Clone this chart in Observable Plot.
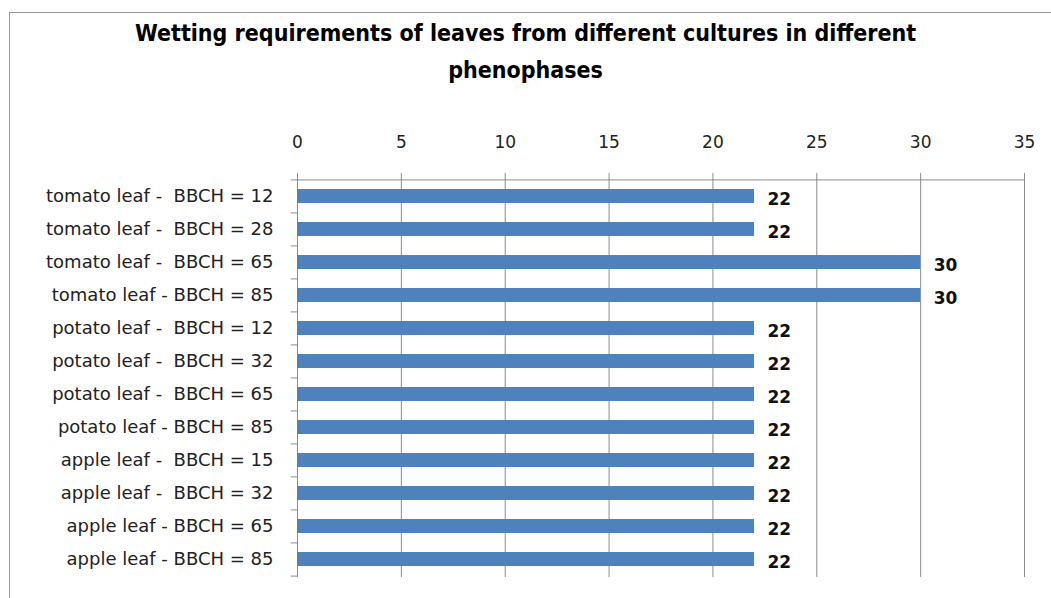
<!DOCTYPE html>
<html>
<head>
<meta charset="utf-8">
<script src="https://cdn.jsdelivr.net/npm/d3@7"></script>
<script src="https://cdn.jsdelivr.net/npm/@observablehq/plot@0.6"></script>
<style>
  html, body { margin: 0; padding: 0; background: #fff; }
  body { width: 1051px; height: 598px; position: relative; overflow: hidden; }
  #frame { position: absolute; left: 9px; top: 12px; width: 1100px; height: 700px; border: 1px solid #9a9a9a; box-sizing: border-box; z-index: 2; pointer-events: none; }
  #title { position: absolute; left: 0; top: 15px; width: 1051px; text-align: center;
           font-family: "Liberation Sans Narrow", "DejaVu Sans Condensed", sans-serif; font-weight: bold;
           font-size: 23px; line-height: 37px; color: #000; }
  #chart { position: absolute; left: 0; top: 100px; }
  #chart svg text { white-space: pre; }
</style>
</head>
<body>
<div id="frame"></div>
<div id="title">Wetting requirements of leaves from different cultures in different<br>phenophases</div>
<div id="chart"></div>
<script>
const categories = [
  "tomato leaf -  BBCH = 12",
  "tomato leaf -  BBCH = 28",
  "tomato leaf -  BBCH = 65",
  "tomato leaf - BBCH = 85",
  "potato leaf -  BBCH = 12",
  "potato leaf -  BBCH = 32",
  "potato leaf -  BBCH = 65",
  "potato leaf - BBCH = 85",
  "apple leaf -  BBCH = 15",
  "apple leaf -  BBCH = 32",
  "apple leaf - BBCH = 65",
  "apple leaf - BBCH = 85"
];
const values = [22, 22, 30, 30, 22, 22, 22, 22, 22, 22, 22, 22];
const xTicks = [0, 5, 10, 15, 20, 25, 30, 35];

const data = categories.map((c, i) => ({category: c, value: values[i]}));

const width = 1051, height = 498;
const marginTop = 79, marginBottom = 21, marginLeft = 297, marginRight = 27;
const bw = (height - marginTop - marginBottom) / categories.length;
const gray = "#8c8c8c";
const labelFont = "'DejaVu Sans', sans-serif";

const plot = Plot.plot({
  width, height, marginTop, marginBottom, marginLeft, marginRight,
  style: {fontFamily: labelFont, fontSize: "17px", color: "#222", background: "transparent", overflow: "visible"},
  x: {domain: [0, 35], ticks: xTicks, clamp: false},
  y: {domain: categories, paddingInner: 0.57, paddingOuter: 0.285, align: 0.5, label: null},
  marks: [
    Plot.ruleX(xTicks, {stroke: gray, strokeWidth: 1}),
    Plot.ruleY([categories[0]], {x1: -0.3, x2: 35, dy: -bw / 2, stroke: gray}),
    Plot.ruleY(categories.slice(1), {x1: -0.3, x2: 0, dy: -bw / 2, stroke: gray}),
    Plot.ruleY([categories[categories.length - 1]], {x1: -0.3, x2: 0, dy: bw / 2, stroke: gray}),
    Plot.axisX({anchor: "top", ticks: xTicks, tickSize: 7, tickPadding: 25, stroke: gray, label: null,
                fontSize: 17, fill: "#222"}),
    Plot.axisY({anchor: "left", tickSize: 0, tickPadding: 24, label: null, fontSize: 18, fill: "#222"}),
    Plot.barX(data, {x: "value", y: "category", fill: "#4F81BD"}),
    Plot.text(data, {x: "value", y: "category", text: d => String(d.value), textAnchor: "start",
                     dx: 13, dy: 3, fontWeight: "bold", fontSize: 17, fill: "#111"})
  ]
});
document.getElementById("chart").appendChild(plot);
</script>
</body>
</html>
